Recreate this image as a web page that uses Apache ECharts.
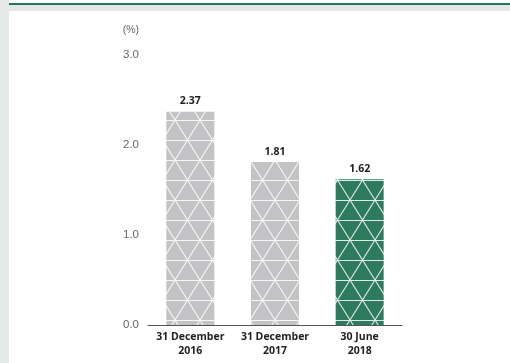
<!DOCTYPE html>
<html>
<head>
<meta charset="utf-8">
<script src="https://cdn.jsdelivr.net/npm/echarts@6/dist/echarts.min.js"></script>
<style>
  html, body { margin: 0; padding: 0; background: #fff; }
  #chart { width: 510px; height: 363px; }
</style>
</head>
<body>
<div id="chart"></div>
<script>
// data
var categories = ['31 December\n2016', '31 December\n2017', '30 June\n2018'];
var ratios = [2.37, 1.81, 1.62];
var barColors = ['#c3c3c5', '#c3c3c5', '#2d7a5f'];
var yTicks = [0, 1, 2, 3];

// triangle lattice pattern for the bar fill
function makePattern(bg) {
  var c = document.createElement('canvas');
  c.width = 25;
  c.height = 40;
  var ctx = c.getContext('2d');
  ctx.fillStyle = bg;
  ctx.fillRect(0, 0, 25, 40);
  ctx.strokeStyle = 'rgba(255,255,255,0.85)';
  ctx.lineWidth = 1.1;
  ctx.beginPath();
  ctx.moveTo(0, 0.5); ctx.lineTo(25, 0.5);
  ctx.moveTo(0, 20.5); ctx.lineTo(25, 20.5);
  ctx.moveTo(0, 0); ctx.lineTo(25, 40);
  ctx.moveTo(25, 0); ctx.lineTo(0, 40);
  ctx.moveTo(-25, 0); ctx.lineTo(0, 40);
  ctx.moveTo(25, 0); ctx.lineTo(50, 40);
  ctx.moveTo(0, 0); ctx.lineTo(-25, 40);
  ctx.moveTo(50, 0); ctx.lineTo(25, 40);
  ctx.stroke();
  return { image: c, repeat: 'repeat' };
}

var chart = echarts.init(document.getElementById('chart'));

var option = {
  backgroundColor: '#fff',
  animation: false,
  graphic: [
    { type: 'rect', shape: { x: 0, y: 0, width: 9, height: 363 }, style: { fill: '#e4e9e7' }, z: -10 },
    { type: 'rect', shape: { x: 0, y: 4, width: 510, height: 7 }, style: { fill: '#e4e9e7' }, z: -10 },
    { type: 'rect', shape: { x: 9, y: 3, width: 501, height: 2 }, style: { fill: '#2a7259' }, z: -9 }
  ],
  grid: { left: 148, width: 254, top: 55, bottom: 38 },
  xAxis: {
    type: 'category',
    data: categories,
    axisTick: { show: false },
    axisLine: { lineStyle: { color: '#555', width: 1 } },
    axisLabel: {
      interval: 0,
      margin: 5,
      color: '#222',
      fontFamily: 'Open Sans',
      fontWeight: 'bold',
      fontSize: 10.5,
      lineHeight: 14
    }
  },
  yAxis: {
    type: 'value',
    min: yTicks[0],
    max: yTicks[yTicks.length - 1],
    interval: 1,
    name: '(%)',
    nameGap: 19,
    nameTextStyle: { color: '#666', fontFamily: 'Liberation Sans', fontSize: 10.5, align: 'right', padding: [0, 9, 0, 0] },
    axisLine: { show: false },
    axisTick: { show: false },
    splitLine: { show: false },
    axisLabel: {
      margin: 9,
      color: '#666',
      fontFamily: 'Liberation Sans',
      fontSize: 11.5,
      formatter: function (v) { return v.toFixed(1); }
    }
  },
  series: [{
    type: 'bar',
    barWidth: 48,
    data: ratios.map(function (v, i) {
      return { value: v, itemStyle: { color: makePattern(barColors[i]) } };
    }),
    label: {
      show: true,
      position: 'top',
      distance: 5,
      color: '#222',
      fontFamily: 'Open Sans',
      fontWeight: 'bold',
      fontSize: 10.5,
      formatter: function (p) { return p.value.toFixed(2); }
    }
  }]
};

option && chart.setOption(option);
</script>
</body>
</html>
